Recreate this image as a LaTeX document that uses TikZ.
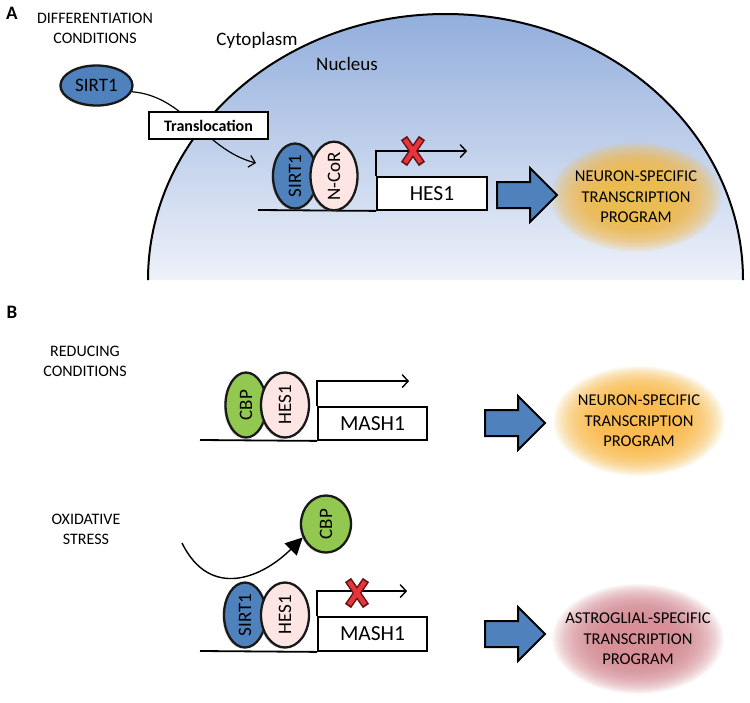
\documentclass[tikz,border=0pt]{standalone}
\usepackage{fontspec}
\setmainfont{Carlito}
\usetikzlibrary{shapes.geometric, positioning, arrows.meta, shadows}

\definecolor{sirtblue}{RGB}{79,129,189}
\definecolor{corepink}{RGB}{252,229,227}
\definecolor{cbpgreen}{RGB}{146,200,80}
\definecolor{nuctop}{RGB}{146,174,220}
\definecolor{nucbottom}{RGB}{238,242,250}
\definecolor{glowgold}{RGB}{250,188,72}
\definecolor{glowrose}{RGB}{216,140,150}
\definecolor{crossred}{RGB}{232,52,58}
\definecolor{crossedge}{RGB}{95,22,22}

\begin{document}
\begin{tikzpicture}[x=1pt, y=-1pt,
  protein/.style={ellipse, draw=black!90, line width=2.3pt, inner sep=0pt, font=\fontsize{19}{19}\selectfont,
    drop shadow={shadow xshift=-1.5pt, shadow yshift=-1.2pt, opacity=0.35}},
  sirt/.style={protein, fill=sirtblue},
  corep/.style={protein, fill=corepink},
  cbp/.style={protein, fill=cbpgreen},
  genebox/.style={draw, line width=1.8pt, fill=white, minimum height=33pt, inner sep=0pt, font=\fontsize{21.5}{21.5}\selectfont},
  caps/.style={align=center, font=\fontsize{16}{20}\selectfont},
  progtext/.style={align=center, font=\fontsize{16.5}{20.5}\selectfont},
  panel/.style={font=\fontsize{19}{19}\selectfont\bfseries},
  dna/.style={line width=1.8pt},
  promoter/.style={line width=1.4pt, -{Straight Barb[length=6pt,width=13pt]}},
  blockarrow/.style={draw=black, line width=2pt, fill=sirtblue, line join=miter}]

  % Define the page
  \useasboundingbox[fill=white] (0,0) rectangle (750,702);

  % Define a block arrow and a red cross
  \newcommand\BlockArrow[2]{%
    \draw[blockarrow] (#1,#2) ++(0,-13) -- ++(33,0) -- ++(0,-14) -- ++(27,27) -- ++(-27,27) -- ++(0,-14) -- ++(-33,0) -- cycle;}
  \newcommand\RedCross[2]{%
    \draw[line width=7.5pt, crossedge] (#1,#2) ++(-9,-13) -- ++(18,26) ++(0,-26) -- ++(-18,26);
    \draw[line width=4.5pt, crossred] (#1,#2) ++(-8,-11.5) -- ++(16,23) ++(0,-23) -- ++(-16,23);}

  % Draw the nucleus
  \shade[top color=nuctop, bottom color=nucbottom] (148,280) arc[start angle=180, end angle=360, x radius=297.5, y radius=266] -- cycle;
  \draw[line width=2pt] (148,280) arc[start angle=180, end angle=360, x radius=297.5, y radius=266];

  % Draw the glows, one soft layer on another
  \foreach \gx/\gy/\gc in {636/197/glowgold, 639/421/glowgold, 638/639/glowrose} {
    \foreach \k in {0,...,39} {
      \pgfmathsetmacro\gs{1-0.015*\k}
      \fill[\gc, opacity=0.057] (\gx,\gy) ellipse[x radius=86*\gs, y radius=55*\gs];
    }
  }

  % Panel A
  \node[panel] (labA) at (12,13) {A};
  \node[caps] (diff) at (95,28) {DIFFERENTIATION\\CONDITIONS};
  \node[font=\fontsize{19}{19}\selectfont] (cyto) at (257,40) {Cytoplasm};
  \node[font=\fontsize{19}{19}\selectfont] (nucl) at (347,64) {Nucleus};

  \node[sirt, minimum width=72pt, minimum height=40pt] (sirtTop) at (96.5,85.5) {SIRT1};
  \coordinate (tlEnd) at (256,163);
  \draw[line width=1.2pt, -{Straight Barb[length=6pt,width=12pt]}] (sirtTop.-10) .. controls (185,96) and (205,150) .. (tlEnd);
  \node[draw, line width=1.2pt, fill=white, minimum width=119pt, minimum height=27pt, inner sep=0pt, font=\fontsize{16}{16}\selectfont\bfseries] (transl) at (208.5,125.5) {Translocation};

  \coordinate (dnaA) at (258,210);
  \node[genebox, minimum width=110pt] (hesA) at (432,193.5) {HES1};
  \draw[dna] (dnaA) -- (hesA.south west);
  \node[sirt, minimum width=44pt, minimum height=65pt] (sirtA) at (295,176) {\rotatebox{90}{SIRT1}};
  \node[corep, minimum width=47pt, minimum height=65pt] (ncorA) at (334,176) {\rotatebox{90}{N-CoR}};
  \draw[promoter] (hesA.north west) -- ++(0,-25) -- ++(91,0);
  \RedCross{413}{151}
  \BlockArrow{497}{195}
  \node[progtext] (progA) at (636,197) {NEURON-SPECIFIC\\TRANSCRIPTION\\PROGRAM};

  % Panel B, reducing conditions
  \node[panel] (labB) at (12,312) {B};
  \node[caps] (reduc) at (85,361.5) {REDUCING\\CONDITIONS};
  \coordinate (dnaB) at (200,440);
  \node[genebox, minimum width=109pt] (mashB) at (372.5,423.5) {MASH1};
  \draw[dna] (dnaB) -- (mashB.south west);
  \node[cbp, minimum width=41pt, minimum height=65pt] (cbpB) at (246,405) {\rotatebox{90}{CBP}};
  \node[corep, minimum width=48pt, minimum height=65pt] (hesB) at (285,405) {\rotatebox{90}{HES1}};
  \draw[promoter] (mashB.north west) -- ++(0,-25) -- ++(92,0);
  \BlockArrow{485}{423}
  \node[progtext] (progB) at (639,421) {NEURON-SPECIFIC\\TRANSCRIPTION\\PROGRAM};

  % Panel B, oxidative stress
  \node[caps] (oxid) at (86,529) {OXIDATIVE\\STRESS};
  \node[cbp, minimum width=50pt, minimum height=57pt] (cbpOx) at (326,524) {\rotatebox{90}{CBP}};
  \coordinate (oxStart) at (182,543);
  \draw[line width=1.4pt, -{Triangle[length=17pt,width=17pt]}] (oxStart) .. controls (210,600) and (262,578) .. (cbpOx.210);
  \coordinate (dnaOx) at (200,651);
  \node[genebox, minimum width=109pt, minimum height=34pt] (mashOx) at (372.5,634) {MASH1};
  \draw[dna] (dnaOx) -- (mashOx.south west);
  \node[sirt, minimum width=42pt, minimum height=65pt] (sirtOx) at (245,615) {\rotatebox{90}{SIRT1}};
  \node[corep, minimum width=48pt, minimum height=65pt] (hesOx) at (285,615) {\rotatebox{90}{HES1}};
  \draw[promoter] (mashOx.north west) -- ++(0,-25) -- ++(90,0);
  \RedCross{357}{593}
  \BlockArrow{485}{634}
  \node[progtext] (progC) at (638,639) {ASTROGLIAL-SPECIFIC\\TRANSCRIPTION\\PROGRAM};
\end{tikzpicture}
\end{document}
